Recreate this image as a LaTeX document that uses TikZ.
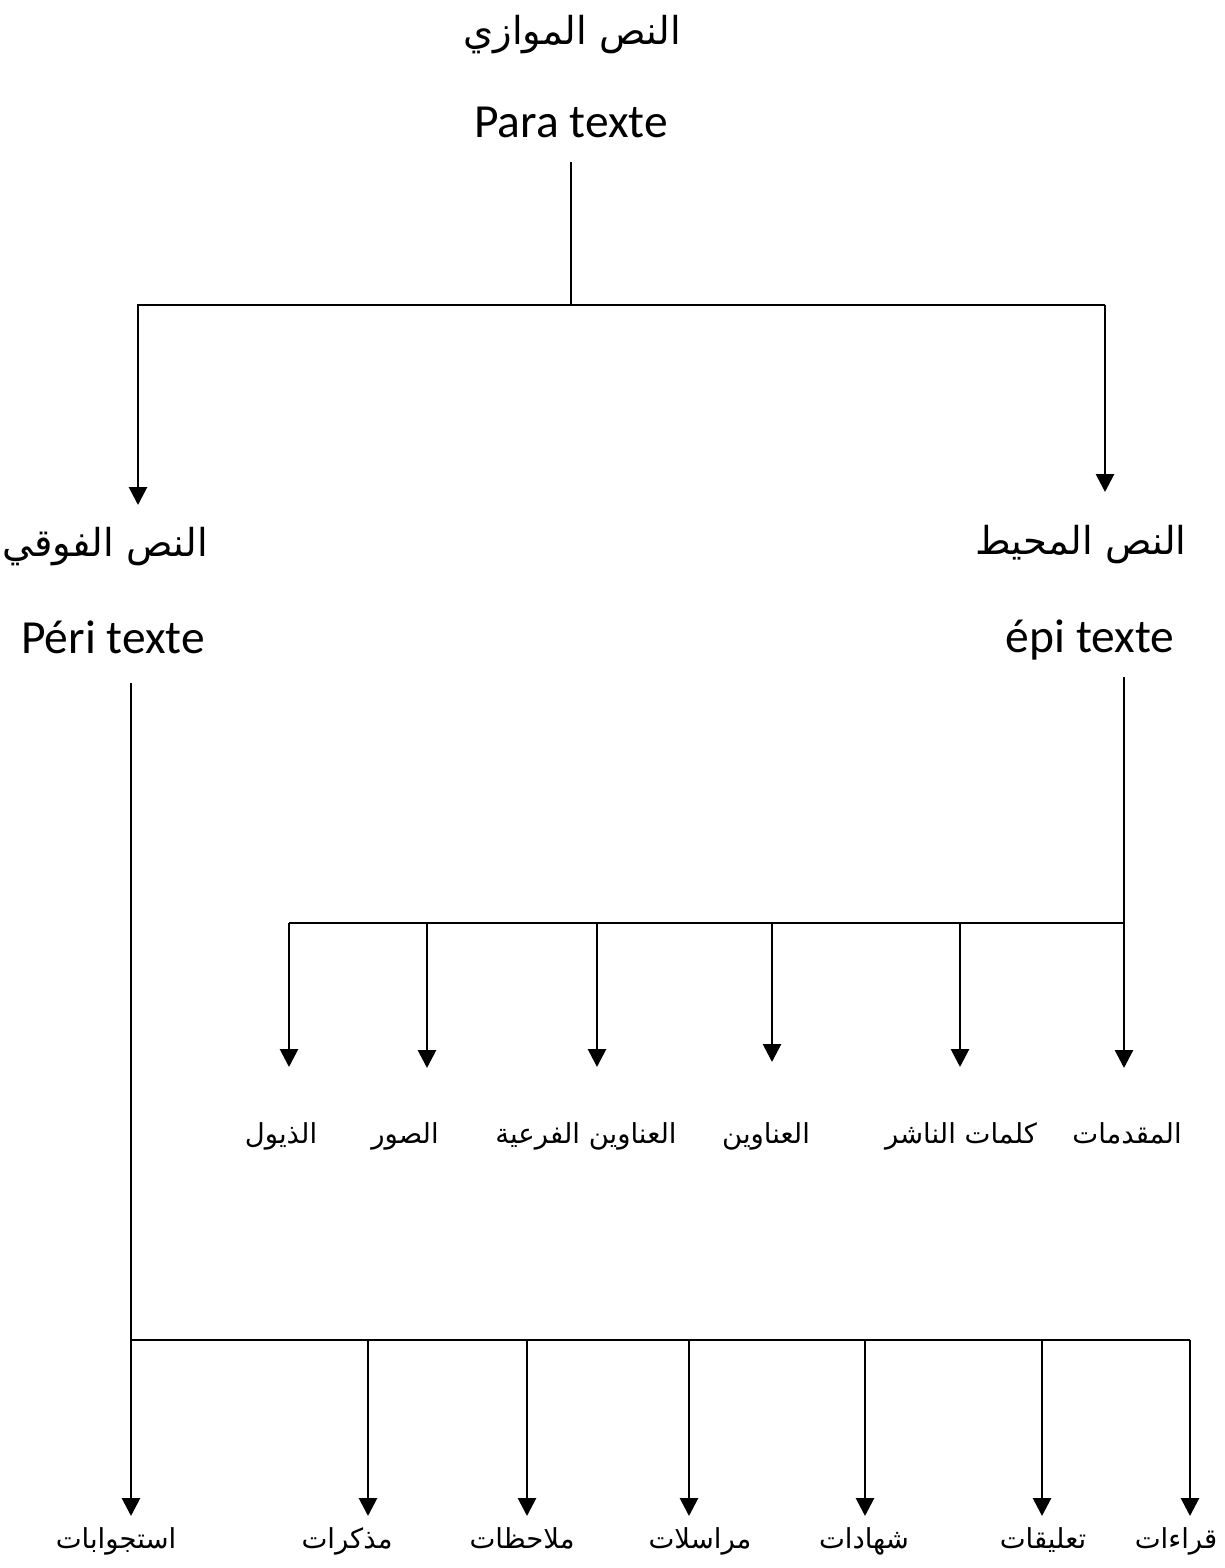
\documentclass[tikz,border=0pt]{standalone}
\usepackage{fontspec}
\setmainfont{Carlito}
\newfontfamily\arabicfont[Script=Arabic]{DejaVu Sans}
\TeXXeTstate=1
\usetikzlibrary{arrows.meta}
\newcommand{\artext}[1]{{\arabicfont\beginR #1\endR}}
\tikzset{
  link/.style={line width=2.8pt},
  arrowlink/.style={link, -{Triangle[width=18pt,length=18pt]}},
  headar/.style={inner sep=0pt, font=\fontsize{38.5}{44}\selectfont},
  headlat/.style={inner sep=0pt, anchor=base, font=\fontsize{47.5}{56}\selectfont},
  leafar/.style={inner sep=0pt, anchor=base, font=\fontsize{27.5}{32}\selectfont},
}
\begin{document}
\begin{tikzpicture}[x=1pt,y=-1pt]
\useasboundingbox[fill=white] (0,0) rectangle (1225,1568);

% top level
\node[headar] (paraar) at (572,35) {\artext{النص الموازي}};
\node[headlat] (para) at (571,138) {Para texte};

% second level
\node[headar] (periar) at (105,547) {\artext{النص الفوقي}};
\node[headlat] (peri) at (113,653) {Péri texte};
\node[headar] (epiar) at (1081,545) {\artext{النص المحيط}};
\node[headlat] (epi) at (1090,652) {épi texte};

% épi texte leaves
\node[leafar] (e1) at (1127,1143) {\artext{المقدمات}};
\node[leafar] (e2) at (961,1143) {\artext{كلمات الناشر}};
\node[leafar] (e3) at (766,1143) {\artext{العناوين}};
\node[leafar] (e4) at (586,1143) {\artext{العناوين الفرعية}};
\node[leafar] (e5) at (405,1143) {\artext{الصور}};
\node[leafar] (e6) at (281,1143) {\artext{الذيول}};

% péri texte leaves
\node[leafar] (p1) at (1176,1548) {\artext{قراءات}};
\node[leafar] (p2) at (1043,1548) {\artext{تعليقات}};
\node[leafar] (p3) at (864,1548) {\artext{شهادات}};
\node[leafar] (p4) at (700,1548) {\artext{مراسلات}};
\node[leafar] (p5) at (522,1548) {\artext{ملاحظات}};
\node[leafar] (p6) at (347,1548) {\artext{مذكرات}};
\node[leafar] (p7) at (116,1548) {\artext{استجوابات}};

% junction points and arrow tips
\coordinate (topstart) at (571,162);
\coordinate (topj) at (571,305);
\coordinate (busAl) at (137,305);
\coordinate (busAr) at (1105,305);
\coordinate (tipperi) at (138,505);
\coordinate (tipepi) at (1105,492);

\coordinate (epistart) at (1124,677);
\coordinate (busBl) at (289,923);
\coordinate (busBr) at (1124,923);

\coordinate (peristart) at (131,683);
\coordinate (busCl) at (131,1340);
\coordinate (busCr) at (1190,1340);

% first split
\draw[link] (topstart) -- (topj);
\draw[link] (busAl) -- (busAr);
\draw[arrowlink] (busAl -| tipperi) -- (tipperi);
\draw[arrowlink] (busAr) -- (tipepi);

% épi texte branch
\draw[arrowlink] (epistart) -- (1124,1068) coordinate (tipe1);
\draw[link] (busBl) -- (busBr);
\foreach \x/\t in {960/1067, 772/1062, 597/1067, 427/1068, 289/1067}
  \draw[arrowlink] (\x,923) -- (\x,\t);

% péri texte branch
\draw[arrowlink] (peristart) -- (131,1516) coordinate (tipp7);
\draw[link] (busCl) -- (busCr);
\foreach \x in {1190, 1042, 865, 689, 527, 368}
  \draw[arrowlink] (\x,1340) -- (\x,1516);
\end{tikzpicture}
\end{document}
